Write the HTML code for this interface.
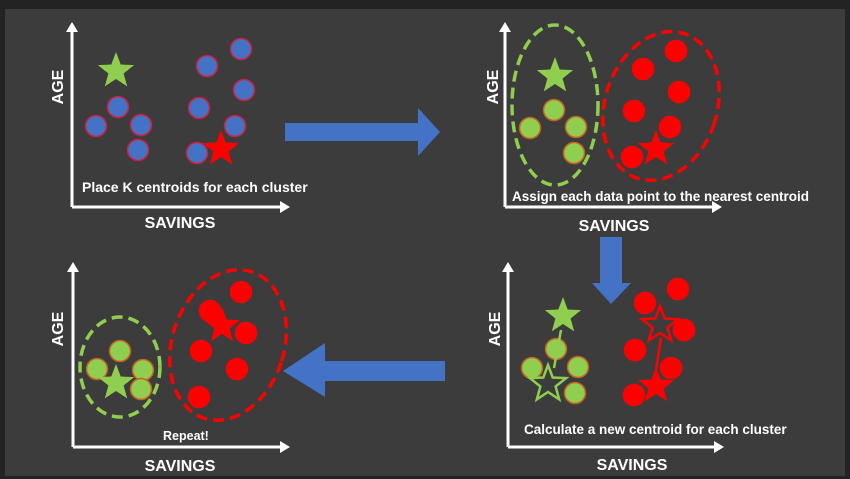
<!DOCTYPE html>
<html><head><meta charset="utf-8"><style>
html,body{margin:0;padding:0;background:#222;}
svg{display:block;}
text{font-family:"Liberation Sans",sans-serif;font-weight:bold;fill:#fff;}
</style></head><body>
<svg id="c" width="850" height="479" viewBox="0 0 850 479">
<rect x="0" y="0" width="850" height="479" fill="#232323"/>
<rect x="5" y="9" width="840" height="467" fill="#3c3c3c"/>
<g id="g"></g>
</svg>
<script>
const blue="#4472c4", red="#ff0000", green="#8fce4e";
// panel 1: initial points (x,y) and centroids
const p1Points=[[96,126],[118,107],[141,125],[138,150],[207,66],[241,49],[244,90],[199,108],[235,126],[197,153]];
const p1Stars=[[116,71,"green"],[221,149,"red"]];
// panel 2
const p2Green=[[554,110],[530,128],[576,127],[574,153]];
const p2Red=[[676,51],[643,69],[679,92],[634,111],[670,127],[632,157]];
const p2Stars=[[555,76,"green"],[656,149,"red"]];
// panel 4 (bottom right)
const p4Green=[[556,349],[532,368],[578,367],[575,393]];
const p4Red=[[678,289],[645,303],[684,330],[635,350],[671,368],[634,395]];
const p4OldStars=[[563,316,"green"],[656,386,"red"]];
const p4NewStars=[[548,384,"green"],[660,325,"red"]];
// panel 3 (bottom left)
const p3Green=[[120,351],[97,369],[143,370],[141,389]];
const p3Red=[[241,292],[210,311],[246,333],[201,351],[237,369],[199,397]];
const p3Stars=[[116,383,"green"],[222,326,"red"]];

const g=document.getElementById('g');
const NS="http://www.w3.org/2000/svg";
function mk(tag,attrs,name){const e=document.createElementNS(NS,tag);for(const k in attrs)e.setAttribute(k,attrs[k]);


g.appendChild(e);return e;}
function col(c){return c==="green"?green:red;}
function starPts(cx,cy,R){const r=R*0.42;let s="";for(let i=0;i<10;i++){const a=-Math.PI/2+i*Math.PI/5;const rr=i%2?r:R;s+=(cx+rr*Math.cos(a)).toFixed(1)+","+(cy+rr*Math.sin(a)).toFixed(1)+" ";}return s;}
function star(x,y,c,hollow){mk('polygon',{points:starPts(x,y,19),fill:hollow?"none":col(c),stroke:col(c),"stroke-width":hollow?2.5:0},c+(hollow?'-new-centroid':'-centroid'));}
function dot(x,y,fill,stroke,name){mk('circle',{cx:x,cy:y,r:10.5,fill:fill,stroke:stroke,"stroke-width":1.5},name);}
function axes(ox,oy,top,right,agex,agey,savx,savy,cap,capx,capy,capsize){
  mk('line',{x1:ox,y1:oy,x2:ox,y2:top+8,stroke:"#fff","stroke-width":3},'y-axis');
  mk('polygon',{points:`${ox-6},${top+10} ${ox},${top} ${ox+6},${top+10}`,fill:"#fff"},'y-axis-arrow');
  mk('line',{x1:ox,y1:oy,x2:right-8,y2:oy,stroke:"#fff","stroke-width":3},'x-axis');
  mk('polygon',{points:`${right-10},${oy-6} ${right},${oy} ${right-10},${oy+6}`,fill:"#fff"},'x-axis-arrow');
  const a=mk('text',{x:agex,y:agey,"font-size":16,"text-anchor":"middle",transform:`rotate(-90 ${agex} ${agey})`},'y-axis-title');a.textContent="AGE";
  const s=mk('text',{x:savx,y:savy,"font-size":16,"text-anchor":"middle"},'x-axis-title');s.textContent="SAVINGS";
  const t=mk('text',{x:capx,y:capy,"font-size":capsize},'caption');t.textContent=cap;
}
// panel 1
axes(72,207,22,290,63,87,180,228,"Place K centroids for each cluster",82,192,14);
p1Points.forEach(p=>dot(p[0],p[1],blue,"#d02040",'data-point'));
p1Stars.forEach(s=>star(s[0],s[1],s[2],false));
// panel 2
axes(505,207,22,722,498,87,614,231,"Assign each data point to the nearest centroid",512,201,13.5);
mk('ellipse',{cx:555,cy:105,rx:43,ry:80,fill:"none",stroke:green,"stroke-width":3.5,"stroke-dasharray":"11 6"},'green-cluster-boundary');
mk('ellipse',{cx:661,cy:106,rx:56,ry:76,fill:"none",stroke:red,"stroke-width":3.5,"stroke-dasharray":"11 6",transform:"rotate(18 661 106)"},'red-cluster-boundary');
p2Green.forEach(p=>dot(p[0],p[1],green,"#c86020",'green-point'));
p2Red.forEach(p=>dot(p[0],p[1],red,red,'red-point'));
p2Stars.forEach(s=>star(s[0],s[1],s[2],false));
// panel 4
axes(508,447,262,724,500,329,632,470,"Calculate a new centroid for each cluster",524,434,13.5);
p4Green.forEach(p=>dot(p[0],p[1],green,"#c86020",'green-point'));
p4Red.forEach(p=>dot(p[0],p[1],red,red,'red-point'));
p4OldStars.forEach(s=>star(s[0],s[1],s[2],false));
p4NewStars.forEach(s=>star(s[0],s[1],s[2],true));
mk('line',{x1:561,y1:330,x2:554,y2:368,stroke:green,"stroke-width":2.5},'green-move-arrow');
mk('line',{x1:656,y1:370,x2:661,y2:338,stroke:red,"stroke-width":2.5},'red-move-arrow');
// panel 3
axes(73,447,262,290,63,329,180,471,"Repeat!",163,440,12.5);
mk('ellipse',{cx:120,cy:367,rx:40,ry:50,fill:"none",stroke:green,"stroke-width":3.5,"stroke-dasharray":"11 6"},'green-cluster-boundary');
mk('ellipse',{cx:228,cy:345,rx:56,ry:77,fill:"none",stroke:red,"stroke-width":3.5,"stroke-dasharray":"11 6",transform:"rotate(18 228 345)"},'red-cluster-boundary');
p3Green.forEach(p=>dot(p[0],p[1],green,"#c86020",'green-point'));
p3Red.forEach(p=>dot(p[0],p[1],red,red,'red-point'));
p3Stars.forEach(s=>star(s[0],s[1],s[2],false));
// flow arrows
mk('polygon',{points:"285,123 418,123 418,108 440,132 418,156 418,141 285,141",fill:blue},'arrow-right');
mk('polygon',{points:"600,237 622,237 622,283 631,283 611,304 592,283 600,283",fill:blue},'arrow-down');
mk('polygon',{points:"445,361 325,361 325,343 283,371 325,397 325,381 445,381",fill:blue},'arrow-left');
</script>
</body></html>
